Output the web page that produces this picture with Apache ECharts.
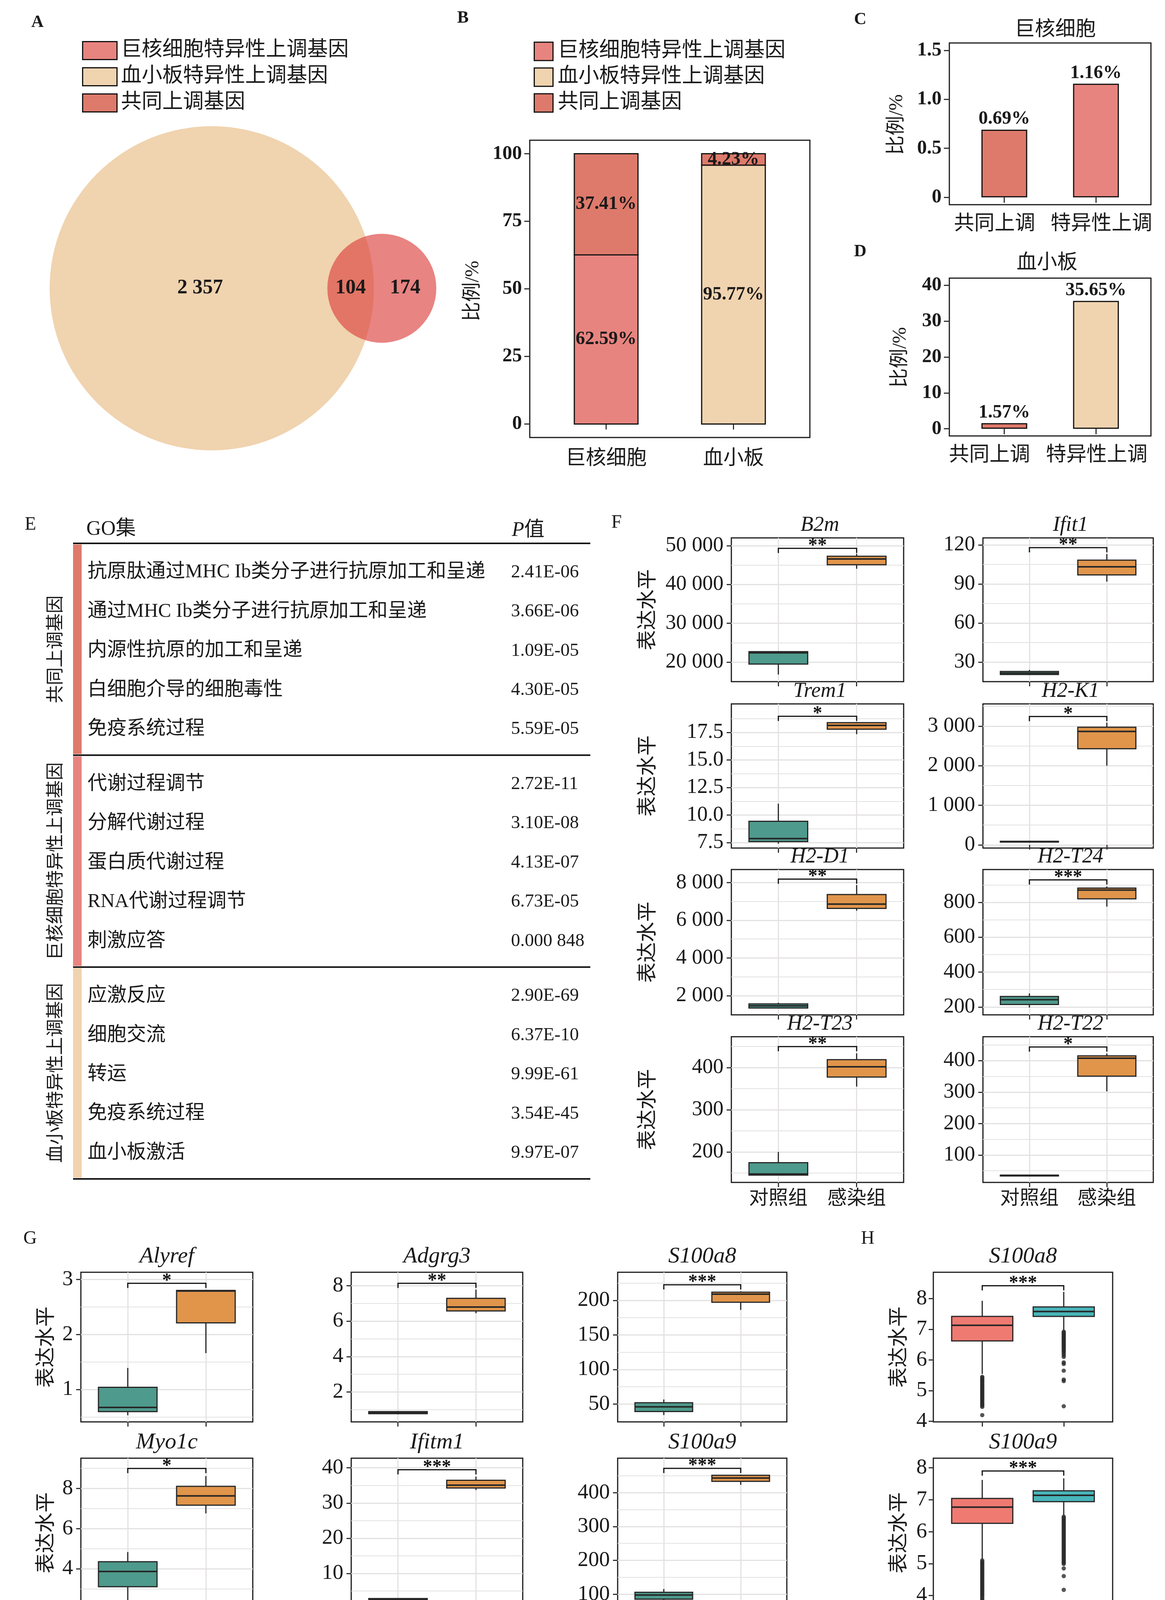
<!DOCTYPE html>
<html><head><meta charset="utf-8">
<script src="https://cdn.jsdelivr.net/npm/echarts@6/dist/echarts.min.js"></script>
<style>html,body{margin:0;padding:0;background:#fff}#c{width:2982px;height:4203px}</style>
</head><body><div id="c"></div>
<script>
// ================= DATA =================
const legendNames = ['巨核细胞特异性上调基因', '血小板特异性上调基因', '共同上调基因'];
// Venn: [platelet-only, megakaryocyte-only] and shared
const vennOnly = [2357, 174];
const vennShared = 104;

const cellTypes = ['巨核细胞', '血小板'];
const specificPct = [62.59, 95.77];
const commonPct = [37.41, 4.23];
const bTicks = [0, 25, 50, 75, 100];
const bTickLabels = ['0', '25', '50', '75', '100'];

const cdCategories = ['共同上调', '特异性上调'];
const mkPct = [0.69, 1.16];
const mkTicks = [0, 0.5, 1.0, 1.5];
const mkTickLabels = ['0', '0.5', '1.0', '1.5'];
const pltPct = [1.57, 35.65];
const pltTicks = [0, 10, 20, 30, 40];
const pltTickLabels = ['0', '10', '20', '30', '40'];

const goSections = ['共同上调基因', '巨核细胞特异性上调基因', '血小板特异性上调基因'];
const goTerms = [
  ['抗原肽通过MHC Ib类分子进行抗原加工和呈递', '通过MHC Ib类分子进行抗原加工和呈递', '内源性抗原的加工和呈递', '白细胞介导的细胞毒性', '免疫系统过程'],
  ['代谢过程调节', '分解代谢过程', '蛋白质代谢过程', 'RNA代谢过程调节', '刺激应答'],
  ['应激反应', '细胞交流', '转运', '免疫系统过程', '血小板激活']
];
const goPValues = [
  ['2.41E-06', '3.66E-06', '1.09E-05', '4.30E-05', '5.59E-05'],
  ['2.72E-11', '3.10E-08', '4.13E-07', '6.73E-05', '0.000 848'],
  ['2.90E-69', '6.37E-10', '9.99E-61', '3.54E-45', '9.97E-07']
];

const groups = ['对照组', '感染组'];

// Panel F  (box = [lower whisker, Q1, median, Q3, upper whisker])
const fGenes = ['B2m', 'Ifit1', 'Trem1', 'H2-K1', 'H2-D1', 'H2-T24', 'H2-T23', 'H2-T22'];
const fControl = [
  [16800, 19500, 22400, 22700, 22700],
  [20.0, 20.5, 21.5, 22.8, 24.0],
  [7.4, 7.59, 7.86, 9.43, 11.03],
  [55, 70, 80, 90, 105],
  [1330, 1342, 1458, 1562, 1625],
  [197, 214.5, 241.6, 260.5, 278],
  [145, 145.3, 148, 174.7, 200],
  [34, 35, 35.5, 36, 37]
];
const fInfected = [
  [44040, 45070, 46560, 47270, 47890],
  [91.8, 97.0, 103.2, 108.3, 113.0],
  [17.35, 17.8, 18.15, 18.4, 18.45],
  [2000, 2427, 2864, 2971, 3087],
  [6508, 6635, 6863, 7369, 7873],
  [775.5, 820.2, 870.5, 881.4, 890.8],
  [355, 377.4, 401.7, 418.6, 433.7],
  [302.2, 350.6, 407.8, 415.3, 422.7]
];
const fBracket = [49300, 117.9, 18.97, 3243, 8189, 928.8, 449.6, 443.3];
const fSig = ['**', '**', '*', '*', '**', '***', '**', '*'];
const fTicks = [[20000, 30000, 40000, 50000], [30, 60, 90, 120], [7.5, 10, 12.5, 15, 17.5], [0, 1000, 2000, 3000],
  [2000, 4000, 6000, 8000], [200, 400, 600, 800], [200, 300, 400], [100, 200, 300, 400]];
const fTickLabels = [['20 000', '30 000', '40 000', '50 000'], ['30', '60', '90', '120'], ['7.5', '10.0', '12.5', '15.0', '17.5'],
  ['0', '1 000', '2 000', '3 000'], ['2 000', '4 000', '6 000', '8 000'], ['200', '400', '600', '800'], ['200', '300', '400'],
  ['100', '200', '300', '400']];
const fMinor = [[25000, 35000, 45000], [45, 75, 105], [8.75, 11.25, 13.75, 16.25, 18.75], [500, 1500, 2500, 3500],
  [3000, 5000, 7000], [300, 500, 700, 900], [150, 250, 350, 450], [50, 150, 250, 350, 450]];
const fRange = [[14970, 52000], [15, 125.4], [7.0, 20.1], [-80, 3560], [981, 8697], [155, 988], [128, 473], [13, 476]];

// Panel G
const gGenes = ['Alyref', 'Adgrg3', 'S100a8', 'Myo1c', 'Ifitm1', 'S100a9'];
const gControl = [
  [0.53, 0.596, 0.672, 1.039, 1.39],
  [0.75, 0.78, 0.84, 0.90, 0.93],
  [34.2, 39.3, 46, 52, 56.7],
  [2.42, 3.10, 3.86, 4.35, 4.83],
  [2.4, 2.55, 2.7, 2.85, 3.0],
  [81.5, 85.4, 97.6, 105.6, 115.4]
];
const gInfected = [
  [1.66, 2.21, 2.79, 2.80, 2.80],
  [6.44, 6.57, 6.79, 7.28, 7.77],
  [186.2, 197.2, 209, 211.8, 213],
  [6.76, 7.17, 7.63, 8.11, 8.62],
  [33.7, 34.27, 35.08, 36.47, 37.5],
  [423, 433.3, 443.1, 451.3, 453]
];
const gBracket = [2.93, 8.13, 222.5, 9.0, 39.46, 471.6];
const gSig = ['*', '**', '***', '*', '***', '***'];
const gTicks = [[1, 2, 3], [2, 4, 6, 8], [50, 100, 150, 200], [4, 6, 8], [10, 20, 30, 40], [100, 200, 300, 400]];
const gTickLabels = [['1', '2', '3'], ['2', '4', '6', '8'], ['50', '100', '150', '200'], ['4', '6', '8'],
  ['10', '20', '30', '40'], ['100', '200', '300', '400']];
const gMinor = [[0.5, 1.5, 2.5], [1, 3, 5, 7], [75, 125, 175, 225], [3, 5, 7, 9], [5, 15, 25, 35], [150, 250, 350, 450]];
const gRange = [[0.41, 3.13], [0.32, 8.75], [24.3, 240.6], [2.07, 9.51], [0.33, 42.74], [61, 501.7]];

// Panel H
const hGenes = ['S100a8', 'S100a9'];
const hControl = [[5.54, 6.62, 7.13, 7.42, 7.93], [5.14, 6.26, 6.77, 7.04, 7.62]];
const hInfected = [[6.96, 7.42, 7.58, 7.73, 8.22], [6.50, 6.94, 7.14, 7.28, 7.67]];
const hControlOutliers = [
  [5.45, 5.42, 5.38, 5.35, 5.31, 5.28, 5.24, 5.20, 5.17, 5.13, 5.10, 5.06, 5.02, 4.99, 4.95, 4.92, 4.88, 4.84, 4.81, 4.77,
    4.73, 4.70, 4.66, 4.62, 4.58, 4.55, 4.51, 4.47, 4.20],
  [5.10, 5.06, 5.02, 4.98, 4.94, 4.90, 4.86, 4.82, 4.78, 4.74, 4.70, 4.66, 4.62, 4.58, 4.54, 4.50, 4.46, 4.42, 4.38, 4.34,
    4.30, 4.26, 4.22, 4.18, 4.14, 4.10, 4.06, 4.02, 3.98, 3.93, 3.88, 3.84, 3.80]
];
const hInfectedOutliers = [
  [6.92, 6.89, 6.85, 6.82, 6.78, 6.75, 6.71, 6.68, 6.64, 6.60, 6.57, 6.53, 6.50, 6.46, 6.43, 6.39, 6.35, 6.31, 6.27, 6.22,
    6.16, 6.10, 5.92, 5.87, 5.65, 5.36, 5.31, 4.49],
  [6.47, 6.43, 6.39, 6.35, 6.31, 6.27, 6.23, 6.19, 6.15, 6.11, 6.07, 6.03, 5.99, 5.95, 5.91, 5.87, 5.83, 5.79, 5.75, 5.71,
    5.67, 5.63, 5.59, 5.55, 5.51, 5.47, 5.43, 5.39, 5.35, 5.31, 5.27, 5.23, 5.19, 5.15, 5.11, 5.07, 5.03, 4.99, 4.85, 4.61, 4.18]
];
const hBracket = [8.42, 7.9];
const hSig = ['***', '***'];
const hTicks = [[4, 5, 6, 7, 8], [4, 5, 6, 7, 8]];
const hTickLabels = [['4', '5', '6', '7', '8'], ['4', '5', '6', '7', '8']];
const hRange = [[3.98, 8.86], [3.63, 8.3]];

// ================= STYLE / LAYOUT =================
const SERIF = '"Liberation Serif", "Noto Sans CJK SC", serif';
const INK = '#1a1a1a';
const COL_MK = '#E8847F', COL_PLT = '#F0D3AF', COL_COMMON = '#DE7A6B';
const COL_CTRL = '#4E9A8C', COL_INF = '#E1954B';
const COL_H_CTRL = '#EF7A72', COL_H_INF = '#48B5B9';
const GRIDLINE = '#E4E1E1';
const L = {
  venn: { cx: 542, cy: 738, r1px: 415 },
  b: [1356, 359, 2073, 1120],
  c: [2430, 110, 2946, 524],
  d: [2430, 712, 2946, 1116],
  table: [187, 1391, 1511, 3018],
  fCols: [[1872, 2313], [2516, 2952]],
  fRows: [[1377, 1745], [1802, 2171], [2226, 2598], [2654, 3027]],
  gCols: [[207, 647], [899, 1338], [1581, 2014]],
  hCol: [2389, 2848],
  ghRows: [[3257, 3640], [3733, 4115]]
};

const grids = [], xAxis = [], yAxis = [], series = [], graphic = [];

function thou(n) { return String(n).replace(/\B(?=(\d{3})+(?!\d))/g, ' '); }
function addGrid(l, t, r, b, show) {
  grids.push({ left: l, top: t, width: r - l, height: b - t, show: show !== false, borderColor: INK, borderWidth: 3,
    backgroundColor: 'transparent', containLabel: false });
  return grids.length - 1;
}
function catXAxis(gi, labels, showLabel, fontSize, margin, gridlines, tickLen, shifts) {
  const rich = {};
  if (shifts) {
    shifts.forEach((s, i) => {
      rich['s' + i] = { fontSize: fontSize, fontFamily: SERIF, color: INK,
        padding: s < 0 ? [0, -2 * s, 0, 0] : [0, 0, 0, 2 * s] };
    });
  }
  xAxis.push({ gridIndex: gi, type: 'value', min: 0.4, max: 2.6,
    axisLine: { show: false },
    axisTick: { show: true, customValues: [1, 2], length: tickLen || 12, lineStyle: { color: '#333', width: 3 } },
    axisLabel: { show: showLabel, customValues: [1, 2],
      formatter: v => { const i = Math.round(v) - 1; const t = labels[i] || ''; return shifts ? '{s' + i + '|' + t + '}' : t; },
      rich: rich, fontSize: fontSize, fontFamily: SERIF, color: INK, margin: margin },
    splitLine: { show: !!gridlines, lineStyle: { color: GRIDLINE, width: 3 } } });
  return xAxis.length - 1;
}
function valYAxis(gi, range, ticks, labels, fontSize, margin, gridlines, tickLen, weight) {
  yAxis.push({ gridIndex: gi, type: 'value', min: range[0], max: range[1],
    axisLine: { show: false },
    axisTick: { show: true, customValues: ticks, length: tickLen || 12, lineStyle: { color: '#333', width: 3 } },
    axisLabel: { customValues: ticks, formatter: v => { const i = ticks.indexOf(v); return i >= 0 ? labels[i] : String(v); },
      fontSize: fontSize, fontWeight: weight || 'normal', fontFamily: SERIF, color: INK, margin: margin },
    splitLine: { show: !!gridlines, lineStyle: { color: GRIDLINE, width: 3 } } });
  return yAxis.length - 1;
}
function minorYAxis(gi, range, minor) {
  yAxis.push({ gridIndex: gi, type: 'value', min: range[0], max: range[1],
    axisLine: { show: false }, axisTick: { show: false, customValues: minor }, axisLabel: { show: false },
    splitLine: { show: true, lineStyle: { color: GRIDLINE, width: 2 } } });
}
function gText(x, y, text, o) {
  o = o || {};
  return { type: 'text', x: x, y: y, rotation: o.rot || 0, z: 10,
    style: { text: text, fontSize: o.size || 50, fontFamily: SERIF, fontWeight: o.weight || 'normal',
      fontStyle: o.italic ? 'italic' : 'normal', fill: INK, align: o.align || 'center', verticalAlign: 'middle',
      rich: o.rich } };
}
function boxRender(colors) {
  return function (params, api) {
    const x = api.value(0);
    const c = v => api.coord([x, v]);
    const pMin = c(api.value(1)), pQ1 = c(api.value(2)), pMed = c(api.value(3)), pQ3 = c(api.value(4)), pMax = c(api.value(5));
    const w = api.size([0.75, 0])[0];
    const stroke = '#262626';
    return { type: 'group', children: [
      { type: 'line', shape: { x1: pMax[0], y1: pMax[1], x2: pQ3[0], y2: pQ3[1] }, style: { stroke: stroke, lineWidth: 3 } },
      { type: 'line', shape: { x1: pQ1[0], y1: pQ1[1], x2: pMin[0], y2: pMin[1] }, style: { stroke: stroke, lineWidth: 3 } },
      { type: 'rect', shape: { x: pQ3[0] - w / 2, y: pQ3[1], width: w, height: Math.max(pQ1[1] - pQ3[1], 2) },
        style: { fill: colors[params.dataIndex], stroke: stroke, lineWidth: 3 } },
      { type: 'line', shape: { x1: pMed[0] - w / 2, y1: pMed[1], x2: pMed[0] + w / 2, y2: pMed[1] }, style: { stroke: stroke, lineWidth: 4 } }
    ] };
  };
}
function bracketRender(sig) {
  return function (params, api) {
    const y = api.value(2);
    const p1 = api.coord([api.value(0), y]), p2 = api.coord([api.value(1), y]);
    const drop = 12;
    return { type: 'group', children: [
      { type: 'polyline', shape: { points: [[p1[0], p1[1] + drop], [p1[0], p1[1]], [p2[0], p2[1]], [p2[0], p2[1] + drop]] },
        style: { stroke: '#111', lineWidth: 3, fill: 'none' } },
      { type: 'text', x: (p1[0] + p2[0]) / 2, y: p1[1] - 6,
        style: { text: sig, fontSize: 48, fontWeight: 'bold', fontFamily: SERIF, fill: '#111', align: 'center', verticalAlign: 'middle' } }
    ] };
  };
}
function boxPanel(p) {
  const l = p.col[0], r = p.col[1], t = p.row[0], b = p.row[1];
  const gi = addGrid(l, t, r, b);
  const xi = catXAxis(gi, groups, p.showX, 50, p.xMargin, p.gridlines, 12);
  const yi = valYAxis(gi, p.range, p.ticks, p.labels, p.tickSize, p.yMargin, p.gridlines, 12);
  if (p.gridlines) minorYAxis(gi, p.range, p.minor);
  if (p.outliers) {
    p.outliers.forEach((arr, k) => series.push({ type: 'scatter', xAxisIndex: xi, yAxisIndex: yi, silent: true, z: 2,
      data: arr.map(v => [k + 1, v]), symbolSize: 11, itemStyle: { color: '#2a2a2a' } }));
  }
  series.push({ type: 'custom', xAxisIndex: xi, yAxisIndex: yi, z: 3, renderItem: boxRender(p.colors),
    data: [[1].concat(p.ctrl), [2].concat(p.inf)] });
  series.push({ type: 'custom', xAxisIndex: xi, yAxisIndex: yi, z: 4, renderItem: bracketRender(p.sig),
    data: [[1, 2, p.bracket]] });
  graphic.push(gText((l + r) / 2 + (p.titleDx || 0), t - p.titleDy, p.title, { size: p.titleSize, italic: true }));
  if (p.yNameX) graphic.push(gText(p.yNameX, (t + b) / 2, '表达水平', { size: 52, rot: Math.PI / 2 }));
}

// ================= A: Venn =================
{
  const r1 = Math.sqrt(vennOnly[0] + vennShared), r2 = Math.sqrt(vennOnly[1] + vennShared);
  const lens = d => {
    const a = r1 * r1 * Math.acos((d * d + r1 * r1 - r2 * r2) / (2 * d * r1));
    const b = r2 * r2 * Math.acos((d * d + r2 * r2 - r1 * r1) / (2 * d * r2));
    const c = 0.5 * Math.sqrt((-d + r1 + r2) * (d + r1 - r2) * (d - r1 + r2) * (d + r1 + r2));
    return a + b - c;
  };
  let lo = Math.abs(r1 - r2) + 1e-6, hi = r1 + r2 - 1e-6;
  const target = Math.PI * vennShared;
  for (let i = 0; i < 80; i++) { const m = (lo + hi) / 2; if (lens(m) > target) lo = m; else hi = m; }
  const d = (lo + hi) / 2;
  const k = L.venn.r1px / r1;
  const gi = addGrid(L.venn.cx - 60 * k, L.venn.cy - 60 * k, L.venn.cx + 80 * k, L.venn.cy + 60 * k, false);
  xAxis.push({ gridIndex: gi, type: 'value', min: -60, max: 80, show: false });
  yAxis.push({ gridIndex: gi, type: 'value', min: -60, max: 60, show: false });
  const xi = xAxis.length - 1, yi = yAxis.length - 1;
  const fills = [COL_PLT, 'rgba(220,66,63,0.65)'];
  series.push({ type: 'custom', xAxisIndex: xi, yAxisIndex: yi, z: 2, silent: true,
    data: [[0, 0, r1], [d, 0, r2]],
    renderItem: (params, api) => {
      const c = api.coord([api.value(0), api.value(1)]);
      const rp = api.size([api.value(2), 0])[0];
      return { type: 'circle', shape: { cx: c[0], cy: c[1], r: rp }, style: { fill: fills[params.dataIndex] } };
    } });
  const labelData = [
    [(-r1 + (d - r2)) / 4, 0, vennOnly[0]],
    [(d - r2 + r1) / 2, 0, vennShared],
    [(r1 + d + r2) / 2, 0, vennOnly[1]]
  ];
  series.push({ type: 'custom', xAxisIndex: xi, yAxisIndex: yi, z: 3, silent: true, data: labelData,
    renderItem: (params, api) => {
      const c = api.coord([api.value(0), api.value(1)]);
      return { type: 'text', x: c[0], y: c[1], style: { text: thou(api.value(2)), fontSize: 52, fontWeight: 'bold',
        fontFamily: SERIF, fill: INK, align: 'center', verticalAlign: 'middle' } };
    } });
}

// ================= B: stacked proportion bars =================
{
  const [l, t, r, b] = L.b;
  const gi = addGrid(l, t, r, b);
  const xi = catXAxis(gi, cellTypes, true, 52, 29, false, 14);
  const yi = valYAxis(gi, [-5, 105], bTicks, bTickLabels, 50, 20, false, 14, 'bold');
  // each segment: [category position, stacked base, segment value]
  const segs = [
    [legendNames[0], COL_MK, [[1, 0, specificPct[0]]]],
    [legendNames[1], COL_PLT, [[2, 0, specificPct[1]]]],
    [legendNames[2], COL_COMMON, cellTypes.map((c, i) => [i + 1, specificPct[i], commonPct[i]])]
  ];
  segs.forEach(s => {
    series.push({ name: s[0], type: 'custom', xAxisIndex: xi, yAxisIndex: yi, data: s[2], z: 3,
      itemStyle: { color: s[1], borderColor: '#111', borderWidth: 3 },
      renderItem: (params, api) => {
        const x = api.value(0), base = api.value(1), h = api.value(2);
        const p0 = api.coord([x - 0.25, base + h]), p1 = api.coord([x + 0.25, base]);
        const mid = api.coord([x, base + h / 2]);
        return { type: 'group', children: [
          { type: 'rect', shape: { x: p0[0], y: p0[1], width: p1[0] - p0[0], height: p1[1] - p0[1] },
            style: { fill: api.visual('color'), stroke: '#111', lineWidth: 3 } },
          { type: 'text', x: mid[0], y: mid[1], z2: 10, style: { text: h.toFixed(2) + '%', fontSize: 48, fontWeight: 'bold',
            fontFamily: SERIF, fill: INK, align: 'center', verticalAlign: 'middle' } }
        ] };
      } });
  });
  graphic.push(gText(1211, 745, '比例/%', { size: 50, rot: Math.PI / 2 }));
}

// ================= C & D =================
function smallBar(rect, values, ticks, tickLabels, range, colors, shifts) {
  const [l, t, r, b] = rect;
  const gi = addGrid(l, t, r, b);
  const xi = catXAxis(gi, cdCategories, true, 52, 24, false, 14, shifts);
  const yi = valYAxis(gi, range, ticks, tickLabels, 50, 20, false, 14, 'bold');
  series.push({ type: 'bar', xAxisIndex: xi, yAxisIndex: yi, barWidth: 0.5 * (r - l) / 2.2,
    data: values.map((v, i) => ({ value: [i + 1, v], itemStyle: { color: colors[i] } })),
    itemStyle: { borderColor: '#111', borderWidth: 3 },
    label: { show: true, position: 'top', distance: 3, formatter: p => p.value[1].toFixed(2) + '%',
      fontSize: 48, fontWeight: 'bold', fontFamily: SERIF, color: INK } });
}
smallBar(L.c, mkPct, mkTicks, mkTickLabels, [-0.075, 1.575], [COL_COMMON, COL_MK], [-25, 14]);
smallBar(L.d, pltPct, pltTicks, pltTickLabels, [-2, 42], [COL_COMMON, COL_PLT], [-38, 2]);
graphic.push(gText(2701, 77, '巨核细胞', { size: 52 }));
graphic.push(gText(2680, 674, '血小板', { size: 52 }));
graphic.push(gText(2296, 319, '比例/%', { size: 50, rot: Math.PI / 2 }));
graphic.push(gText(2305, 915, '比例/%', { size: 50, rot: Math.PI / 2 }));

// ================= E: GO table =================
{
  const [l, t, r, b] = L.table;
  const gi = addGrid(l, t, r, b, false);
  const SEC = 5.4, ROW0 = 0.74, TERM_X = 0.028, P_X = 0.8467;
  xAxis.push({ gridIndex: gi, type: 'value', min: 0, max: 1, show: false });
  yAxis.push({ gridIndex: gi, type: 'value', min: 0, max: SEC * goSections.length, inverse: true, show: false });
  const xi = xAxis.length - 1, yi = yAxis.length - 1;
  const secColors = [COL_COMMON, COL_MK, COL_PLT];
  series.push({ type: 'custom', xAxisIndex: xi, yAxisIndex: yi, silent: true, data: goSections.map((s, i) => [i]),
    renderItem: (params, api) => {
      const s = api.value(0);
      const p0 = api.coord([0, s * SEC]), p1 = api.coord([1, (s + 1) * SEC]);
      const ch = [
        { type: 'rect', shape: { x: p0[0], y: p0[1] + 3, width: 22, height: p1[1] - p0[1] - 6 }, style: { fill: secColors[s] } },
        { type: 'line', shape: { x1: p0[0], y1: p1[1], x2: p1[0], y2: p1[1] }, style: { stroke: '#111', lineWidth: 4 } },
        { type: 'text', x: p0[0] - 43, y: (p0[1] + p1[1]) / 2, rotation: Math.PI / 2,
          style: { text: goSections[s], fontSize: 46, fontFamily: SERIF, fill: INK, align: 'center', verticalAlign: 'middle' } }
      ];
      if (s === 0) ch.push({ type: 'line', shape: { x1: p0[0], y1: p0[1], x2: p1[0], y2: p0[1] }, style: { stroke: '#111', lineWidth: 4 } });
      return { type: 'group', children: ch };
    } });
  const rows = [];
  goTerms.forEach((sec, s) => sec.forEach((tm, i) => rows.push([s, i])));
  series.push({ type: 'custom', xAxisIndex: xi, yAxisIndex: yi, silent: true, data: rows,
    renderItem: (params, api) => {
      const s = api.value(0), i = api.value(1);
      const y = s * SEC + ROW0 + i;
      const a = api.coord([TERM_X, y]), c = api.coord([P_X, y]);
      return { type: 'group', children: [
        { type: 'text', x: a[0], y: a[1], style: { text: goTerms[s][i], fontSize: 50, fontFamily: SERIF, fill: INK, align: 'left', verticalAlign: 'middle' } },
        { type: 'text', x: c[0], y: c[1], style: { text: goPValues[s][i], fontSize: 47, fontFamily: SERIF, fill: INK, align: 'left', verticalAlign: 'middle' } }
      ] };
    } });
  graphic.push(gText(221, 1355, 'GO集', { size: 52, align: 'left' }));
  graphic.push(gText(1310, 1358, '{i|P}值', { size: 52, align: 'left', rich: { i: { fontStyle: 'italic', fontSize: 52, fontFamily: SERIF, fill: INK } } }));
}

// ================= F =================
fGenes.forEach((g, k) => {
  boxPanel({ col: L.fCols[k % 2], row: L.fRows[Math.floor(k / 2)], showX: Math.floor(k / 2) === 3, xMargin: 18,
    gridlines: true, range: fRange[k], ticks: fTicks[k], labels: fTickLabels[k], minor: fMinor[k],
    ctrl: fControl[k], inf: fInfected[k], bracket: fBracket[k], sig: fSig[k], colors: [COL_CTRL, COL_INF],
    tickSize: 54, yMargin: 20, title: g, titleSize: 54, titleDy: 32, titleDx: 6, yNameX: k % 2 === 0 ? 1660 : null });
});
// ================= G =================
gGenes.forEach((g, k) => {
  boxPanel({ col: L.gCols[k % 3], row: L.ghRows[Math.floor(k / 3)], showX: Math.floor(k / 3) === 1, xMargin: 21,
    gridlines: true, range: gRange[k], ticks: gTicks[k], labels: gTickLabels[k], minor: gMinor[k],
    ctrl: gControl[k], inf: gInfected[k], bracket: gBracket[k], sig: gSig[k], colors: [COL_CTRL, COL_INF],
    tickSize: 55, yMargin: 20, title: g, titleSize: 58, titleDy: 40, yNameX: k % 3 === 0 ? 120 : null });
});
// ================= H =================
hGenes.forEach((g, k) => {
  boxPanel({ col: L.hCol, row: L.ghRows[k], showX: k === 1, xMargin: 21, gridlines: false,
    range: hRange[k], ticks: hTicks[k], labels: hTickLabels[k], minor: [],
    ctrl: hControl[k], inf: hInfected[k], bracket: hBracket[k], sig: hSig[k], colors: [COL_H_CTRL, COL_H_INF],
    outliers: [hControlOutliers[k], hInfectedOutliers[k]],
    tickSize: 55, yMargin: 16, title: g, titleSize: 58, titleDy: 40, yNameX: 2303 });
});

// ================= panel letters =================
[['A', 96, 58, 44, 'bold'], ['B', 1185, 47, 44, 'bold'], ['C', 2202, 51, 44, 'bold'], ['D', 2202, 645, 44, 'bold'],
 ['E', 78, 1343, 48, 'normal'], ['F', 1578, 1338, 48, 'normal'], ['G', 77, 3171, 48, 'normal'], ['H', 2221, 3171, 48, 'normal']]
  .forEach(a => graphic.push(gText(a[1], a[2], a[0], { size: a[3], weight: a[4] })));

const legendBase = { data: legendNames, orient: 'vertical', icon: 'rect', selectedMode: false,
  itemStyle: { borderColor: '#111', borderWidth: 3 } };
const option = {
  animation: false,
  backgroundColor: '#fff',
  legend: [
    Object.assign({}, legendBase, { left: 205, top: 98, itemWidth: 88, itemHeight: 46, itemGap: 14,
      textStyle: { fontSize: 53, fontFamily: SERIF, color: INK, lineHeight: 46, padding: [0, 0, 0, 5] } }),
    Object.assign({}, legendBase, { left: 1361, top: 100, itemWidth: 48, itemHeight: 47, itemGap: 13,
      textStyle: { fontSize: 53, fontFamily: SERIF, color: INK, lineHeight: 47, padding: [0, 0, 0, 7] } })
  ],
  grid: grids, xAxis: xAxis, yAxis: yAxis, series: series, graphic: graphic
};
const chart = echarts.init(document.getElementById('c'), null, { renderer: 'canvas', width: 2982, height: 4203 });
chart.setOption(option);
</script></body></html>
